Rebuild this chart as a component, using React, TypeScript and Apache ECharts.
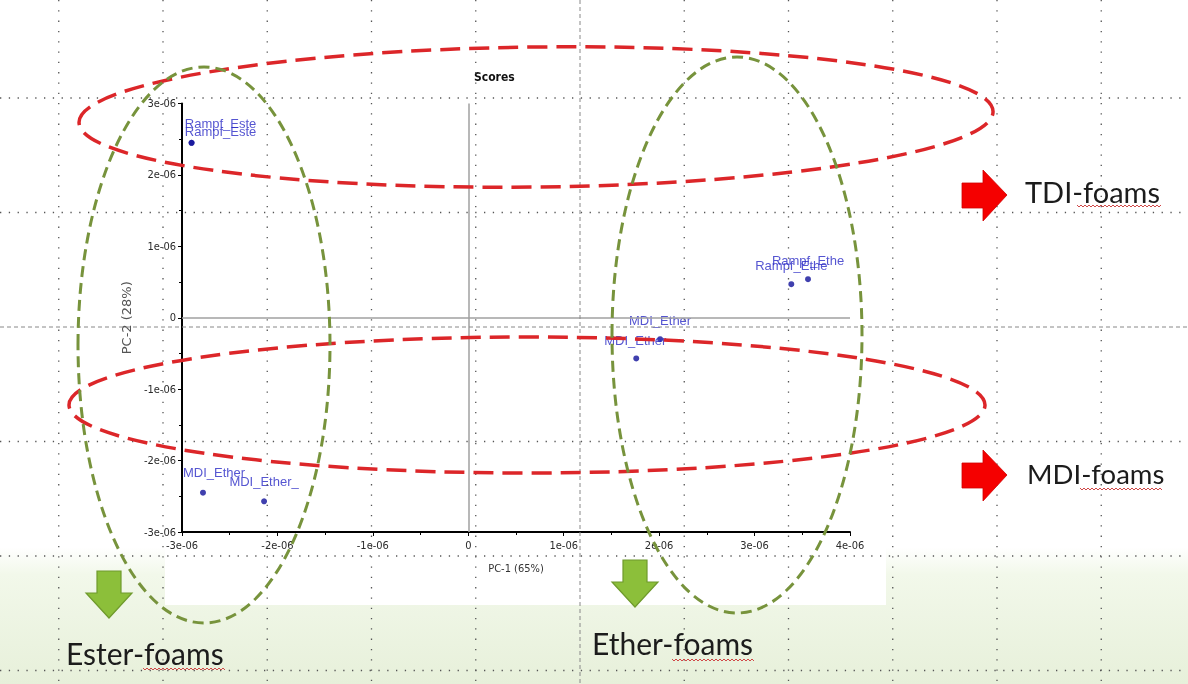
import React, { useEffect, useRef } from 'react';
import * as echarts from 'echarts';

// ---- data ----
const sampleNames = ['Rampf_Este', 'Rampf_Este', 'Rampf_Ethe', 'Rampf_Ethe', 'MDI_Ether', 'MDI_Ether', 'MDI_Ether', 'MDI_Ether_'];
const pc1Scores = [-2.9e-6, -2.9e-6, 3.385e-6, 3.56e-6, 2.01e-6, 1.76e-6, -2.78e-6, -2.14e-6];
const pc2Scores = [2.45e-6, 2.45e-6, 0.47e-6, 0.54e-6, -0.3e-6, -0.57e-6, -2.45e-6, -2.57e-6];
const xAxisName = 'PC-1 (65%)';
const yAxisName = 'PC-2 (28%)';
const chartTitle = 'Scores';
const groupLabels = ['TDI-foams', 'MDI-foams', 'Ester-foams', 'Ether-foams'];

// ---- styling (label offsets in px relative to each point) ----
const labelOffsets = [[29, -19], [29, -11], [0, -19], [0, -19], [0, -19], [-1, -18], [11, -20], [0, -20]];

function tickFmt(v: number) {
  const n = Math.round(v * 1e6);
  return n === 0 ? '0' : `${n}e-06`;
}

function wave(x0: number, x1: number, y: number) {
  const pts: number[][] = [];
  let up = true;
  for (let x = x0; x <= x1; x += 2) {
    pts.push([x, y + (up ? -1 : 1)]);
    up = !up;
  }
  return pts;
}

export default function App() {
  const ref = useRef<HTMLDivElement>(null);
  useEffect(() => {
    if (!ref.current) return;
    const chart = echarts.init(ref.current, undefined, { renderer: 'svg' });
    const W = 1188, H = 684;

    const guides: any[] = [];
    const vx = [58.75, 163, 267.25, 371.5, 475.75, 684.25, 788.5, 892.75, 997, 1101.25];
    vx.forEach((x) => guides.push({ type: 'line', z: 50, silent: true, shape: { x1: x, y1: 0, x2: x, y2: H }, style: { stroke: '#555', lineWidth: 1.3, lineDash: [1.3, 9] } }));
    const hy = [98, 212.5, 441.5, 556, 670.5];
    hy.forEach((y) => guides.push({ type: 'line', z: 50, silent: true, shape: { x1: 0, y1: y, x2: W, y2: y }, style: { stroke: '#555', lineWidth: 1.3, lineDash: [1.3, 7.5] } }));
    guides.push({ type: 'line', z: 50, silent: true, shape: { x1: 580, y1: 0, x2: 580, y2: H }, style: { stroke: '#888', lineWidth: 1, lineDash: [4, 3] } });
    guides.push({ type: 'line', z: 50, silent: true, shape: { x1: 0, y1: 327, x2: W, y2: 327 }, style: { stroke: '#888', lineWidth: 1, lineDash: [4, 3] } });

    const red = '#dc2629';
    const green = '#77933c';
    const ellipses = [
      { type: 'ellipse', z: 60, silent: true, rotation: 0.012, originX: 536, originY: 117, shape: { cx: 536, cy: 117, rx: 457, ry: 70 }, style: { fill: 'none', stroke: red, lineWidth: 3.5, lineDash: [20, 9] } },
      { type: 'ellipse', z: 60, silent: true, shape: { cx: 527, cy: 405, rx: 458, ry: 68 }, style: { fill: 'none', stroke: red, lineWidth: 3.5, lineDash: [20, 9] } },
      { type: 'ellipse', z: 60, silent: true, shape: { cx: 204, cy: 345, rx: 126, ry: 278 }, style: { fill: 'none', stroke: green, lineWidth: 3, lineDash: [11, 6] } },
      { type: 'ellipse', z: 60, silent: true, shape: { cx: 737, cy: 335, rx: 125, ry: 278 }, style: { fill: 'none', stroke: green, lineWidth: 3, lineDash: [11, 6] } },
    ];

    const rightArrow = (cy: number) => ({
      type: 'polygon', z: 60, silent: true,
      shape: { points: [[962, cy - 12], [983, cy - 12], [983, cy - 25], [1007, cy], [983, cy + 26], [983, cy + 13], [962, cy + 13]] },
      style: { fill: '#f50000', stroke: '#d00000', lineWidth: 0.8 },
    });
    const downArrow = (cx: number, top: number) => ({
      type: 'polygon', z: 60, silent: true,
      shape: { points: [[cx - 12, top], [cx + 12, top], [cx + 12, top + 22], [cx + 23, top + 22], [cx, top + 47], [cx - 23, top + 22], [cx - 12, top + 22]] },
      style: { fill: '#8cbf3a', stroke: '#6f9a2c', lineWidth: 1.2 },
    });

    const texts = [
      { t: groupLabels[0], x: 1025, y: 191, fs: 29, ux: [1077, 1162, 206] },
      { t: groupLabels[1], x: 1027, y: 473, fs: 27.5, ux: [1080, 1163, 489] },
      { t: groupLabels[2], x: 66, y: 653, fs: 30, ux: [143, 225, 669] },
      { t: groupLabels[3], x: 592, y: 643, fs: 30, ux: [672, 755, 660] },
    ];
    const textEls: any[] = [];
    texts.forEach((o) => {
      textEls.push({ type: 'text', z: 60, silent: true, x: o.x, y: o.y, style: { text: o.t, font: `${o.fs}px Lato`, fill: '#1c1c1c', textAlign: 'left', textVerticalAlign: 'middle' } });
      textEls.push({ type: 'polyline', z: 60, silent: true, shape: { points: wave(o.ux[0], o.ux[1], o.ux[2]) }, style: { stroke: '#d04848', lineWidth: 1, fill: 'none' } });
    });

    const points = pc1Scores.map((x, i) => ({
      value: [x, pc2Scores[i]],
      name: sampleNames[i],
      label: { offset: labelOffsets[i] },
    }));

    const narrow = '"Liberation Sans Narrow", "Arial Narrow", "DejaVu Sans Condensed", sans-serif';

    chart.setOption({
      animation: false,
      backgroundColor: 'transparent',
      title: {
        text: chartTitle, left: 474, top: 71, padding: 0,
        textStyle: { fontSize: 12, fontWeight: 'bold', fontFamily: narrow, color: '#111' },
      },
      grid: { left: 182, right: 338, top: 103.5, bottom: 152 },
      xAxis: {
        type: 'value', min: -3e-6, max: 4e-6, interval: 1e-6,
        name: xAxisName, nameLocation: 'middle', nameGap: 31,
        nameTextStyle: { fontFamily: narrow, fontSize: 11, color: '#333' },
        axisLine: { onZero: false, lineStyle: { color: '#000', width: 2 } },
        axisTick: { show: true, length: 4, lineStyle: { color: '#000' } },
        minorTick: { show: true, splitNumber: 2, length: 3, lineStyle: { color: '#000' } },
        splitLine: { show: false },
        axisLabel: { formatter: tickFmt, margin: 8, fontFamily: narrow, fontSize: 11, color: '#2a2a2a' },
      },
      yAxis: {
        type: 'value', min: -3e-6, max: 3e-6, interval: 1e-6,
        name: yAxisName, nameLocation: 'middle', nameGap: 45,
        nameTextStyle: { fontFamily: 'DejaVu Sans', fontSize: 13, color: '#555' },
        axisLine: { onZero: false, lineStyle: { color: '#000', width: 2 } },
        axisTick: { show: true, length: 4, lineStyle: { color: '#000' } },
        minorTick: { show: true, splitNumber: 2, length: 3, lineStyle: { color: '#000' } },
        splitLine: { show: false },
        axisLabel: { formatter: tickFmt, margin: 6, fontFamily: narrow, fontSize: 11, color: '#2a2a2a' },
      },
      series: [{
        type: 'scatter',
        symbolSize: 6,
        itemStyle: { color: '#10109a' },
        data: points,
        label: {
          show: true, position: 'inside', formatter: '{b}',
          fontFamily: '"Liberation Sans", Arial, sans-serif', fontSize: 13, color: '#2b2bc6',
          align: 'center', verticalAlign: 'middle',
        },
        markLine: {
          silent: true, symbol: 'none', animation: false,
          label: { show: false },
          lineStyle: { color: '#a0a0a0', type: 'solid', width: 1.5 },
          data: [{ xAxis: 0 }, { yAxis: 0 }],
        },
      }],
      graphic: [
        {
          type: 'rect', z: -10, silent: true, shape: { x: 0, y: 0, width: W, height: H },
          style: { fill: { type: 'linear', x: 0, y: 0, x2: 0, y2: 1, colorStops: [
            { offset: 0, color: '#ffffff' }, { offset: 0.8, color: '#ffffff' },
            { offset: 0.84, color: '#f2f8ea' }, { offset: 1, color: '#e7f0da' }] } },
        },
        { type: 'rect', z: -9, silent: true, shape: { x: 165, y: 0, width: 721, height: 605 }, style: { fill: '#ffffff' } },
        ...guides,
        ...ellipses,
        rightArrow(195),
        rightArrow(475),
        downArrow(109, 571),
        downArrow(635, 560),
        ...textEls,
      ],
    });
    return () => chart.dispose();
  }, []);
  return <div ref={ref} style={{ position: 'fixed', left: 0, top: 0, width: 1188, height: 684 }} />;
}
